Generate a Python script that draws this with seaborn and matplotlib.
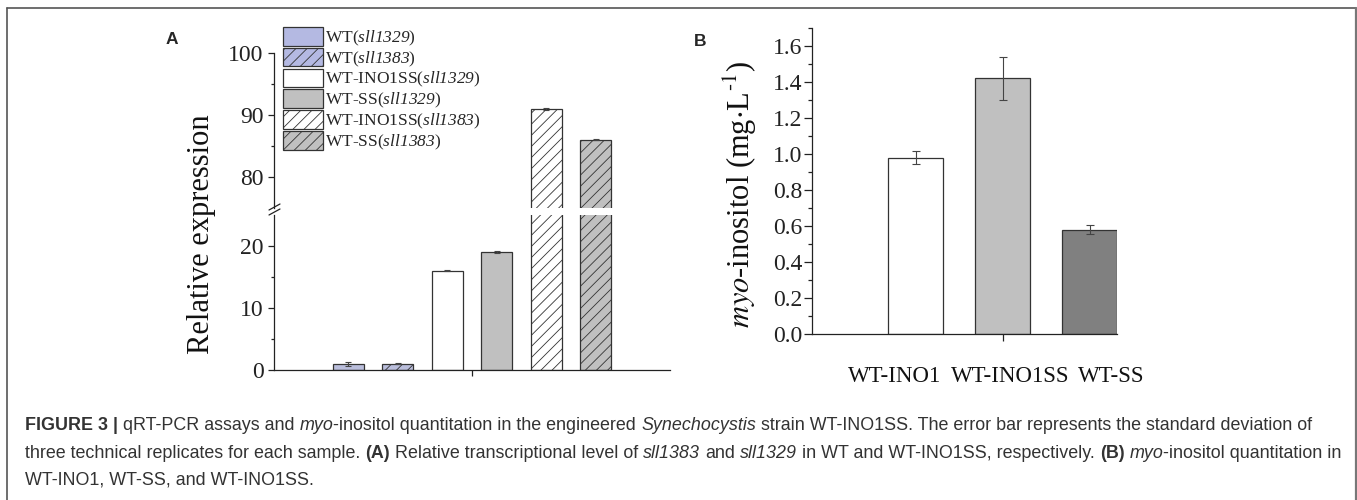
import numpy as np
import pandas as pd
import matplotlib
matplotlib.use("Agg")
import matplotlib.pyplot as plt
import seaborn as sns
from matplotlib.patches import Patch
from matplotlib.font_manager import FontProperties
from matplotlib.lines import Line2D

# ---------------- data ----------------
a_labels = ["WT(sll1329)", "WT(sll1383)", "WT-INO1SS(sll1329)", "WT-SS(sll1329)",
            "WT-INO1SS(sll1383)", "WT-SS(sll1383)"]
a_legend = [r"WT($\mathit{sll1329}$)", r"WT($\mathit{sll1383}$)",
            r"WT-INO1SS($\mathit{sll1329}$)", r"WT-SS($\mathit{sll1329}$)",
            r"WT-INO1SS($\mathit{sll1383}$)", r"WT-SS($\mathit{sll1383}$)"]
a_values = [1.0, 1.0, 16.0, 19.0, 91.0, 86.0]
a_errors = [0.3, 0.1, 0.1, 0.15, 0.15, 0.1]
a_colors = ["#b4b9e2", "#b4b9e2", "#ffffff", "#c0c0c0", "#ffffff", "#c0c0c0"]
a_hatches = ["", "///", "", "", "///", "///"]

b_labels = ["WT-INO1", "WT-INO1SS", "WT-SS"]
b_values = [0.98, 1.42, 0.58]
b_errors = [0.037, 0.12, 0.024]
b_colors = ["#ffffff", "#c0c0c0", "#808080"]

caption = [
    [("FIGURE 3 |", "b", True), ("qRT-PCR assays and", "n", True), ("myo", "i", False),
     ("-inositol quantitation in the engineered", "n", True), ("Synechocystis", "i", True),
     ("strain WT-INO1SS. The error bar represents the standard deviation of", "n", False)],
    [("three technical replicates for each sample.", "n", True), ("(A)", "b", True),
     ("Relative transcriptional level of", "n", True), ("sll1383", "i", True),
     ("and", "n", True), ("sll1329", "i", True),
     ("in WT and WT-INO1SS, respectively.", "n", True), ("(B)", "b", True),
     ("myo", "i", False), ("-inositol quantitation in", "n", False)],
    [("WT-INO1, WT-SS, and WT-INO1SS.", "n", False)],
]

W, H = 1357, 500

sns.set_theme(style="ticks")
plt.rcParams["font.family"] = ["Liberation Serif", "DejaVu Serif"]
plt.rcParams["mathtext.fontset"] = "custom"
plt.rcParams["mathtext.rm"] = "Liberation Serif:italic"
plt.rcParams["mathtext.it"] = "Liberation Serif:italic"
plt.rcParams["mathtext.bf"] = "Liberation Serif:bold"
plt.rcParams["hatch.linewidth"] = 0.6
plt.rcParams["hatch.color"] = "#333333"
plt.rcParams["axes.edgecolor"] = "#222222"
plt.rcParams["axes.linewidth"] = 0.9
plt.rcParams["xtick.color"] = "#222222"
plt.rcParams["ytick.color"] = "#222222"

fig = plt.figure(figsize=(W / 100, H / 100), dpi=100)
fig.patch.set_facecolor("white")


def px(l, t, r, b):
    return [l / W, 1 - b / H, (r - l) / W, (b - t) / H]


def fx(x):
    return x / W


def fy(y):
    return 1 - y / H


EDGE = "#333333"

# ---------------- panel A (broken axis) ----------------
dfa = pd.DataFrame({"pos": np.arange(1, len(a_values) + 1), "value": a_values,
                    "label": a_labels})
pal_a = dict(zip(a_labels, a_colors))

axA_low = fig.add_axes(px(274, 215, 670, 370))
axA_up = fig.add_axes(px(274, 53, 670, 208))

for ax in (axA_low, axA_up):
    sns.barplot(data=dfa, x="pos", y="value", hue="label", palette=pal_a,
                native_scale=True, dodge=False, width=0.63, errorbar=None,
                legend=False, edgecolor=EDGE, linewidth=0.9, ax=ax)
    bars = sorted(ax.patches, key=lambda p: p.get_x())
    for p, h in zip(bars, a_hatches):
        p.set_hatch(h)
    ax.errorbar(dfa["pos"], dfa["value"], yerr=a_errors, fmt="none",
                ecolor="#444444", elinewidth=0.8, capsize=2, capthick=0.8)
    ax.set_xlim(-0.5, 7.5)
    ax.set_xlabel("")
    ax.set_ylabel("")
    ax.set_facecolor("none")
    for s in ("top", "right"):
        ax.spines[s].set_visible(False)
    ax.tick_params(axis="y", which="major", direction="out", length=4.5,
                   width=0.9, labelsize=17, pad=3)
    ax.tick_params(axis="y", which="minor", direction="out", length=2.5,
                   width=0.9)

axA_low.set_ylim(0, 25)
axA_low.set_yticks([0, 10, 20])
axA_low.set_yticks([5, 15], minor=True)
axA_low.set_xticks([3.5])
axA_low.set_xticklabels([""])
axA_low.tick_params(axis="x", direction="out", length=4.5, width=0.9)

axA_up.set_ylim(75, 100)
axA_up.set_yticks([80, 90, 100])
axA_up.set_yticks([85, 95], minor=True)
axA_up.spines["bottom"].set_visible(False)
axA_up.set_xticks([])

# break marks on the y axis
for dy in (207, 212):
    fig.add_artist(Line2D([fx(269), fx(280)], [fy(dy + 3), fy(dy - 3)],
                          color="#222222", lw=0.9))

fig.text(fx(202), fy(234), "Relative expression", rotation=90,
         ha="center", va="center", fontsize=22, color="#111111")

# legend
leg_prop = FontProperties(family="Liberation Serif", size=12.5,
                          math_fontfamily="custom")
handles = [Patch(facecolor=c, edgecolor=EDGE, hatch=h, linewidth=0.9)
           for c, h in zip(a_colors, a_hatches)]
fig.legend(handles, a_legend, loc="upper left",
           bbox_to_anchor=(fx(283), fy(27)), bbox_transform=fig.transFigure,
           frameon=False, borderpad=0, borderaxespad=0,
           handlelength=40 / 17.36, handleheight=1.28, handletextpad=0.12,
           labelspacing=0.0, prop=leg_prop)

fig.text(fx(172), fy(40), "A", fontsize=12.5, fontweight="bold",
         family="Liberation Sans", ha="center", va="center")

# ---------------- panel B ----------------
dfb = pd.DataFrame({"pos": np.arange(1, len(b_values) + 1), "value": b_values,
                    "label": b_labels})
axB = fig.add_axes(px(812, 28, 1117, 334))
sns.barplot(data=dfb, x="pos", y="value", hue="label",
            palette=dict(zip(b_labels, b_colors)), native_scale=True,
            dodge=False, width=0.63, errorbar=None, legend=False,
            edgecolor=EDGE, linewidth=0.9, ax=axB)
axB.errorbar(dfb["pos"], dfb["value"], yerr=b_errors, fmt="none",
             ecolor="#444444", elinewidth=0.8, capsize=3, capthick=0.8)
axB.set_xlim(-0.19, 3.315)
axB.set_ylim(0, 1.7)
axB.set_yticks(np.arange(0, 1.61, 0.2))
axB.set_yticks(np.arange(0.1, 1.71, 0.2), minor=True)
axB.yaxis.set_major_formatter(matplotlib.ticker.FormatStrFormatter("%.1f"))
axB.set_xticks([2])
axB.set_xticklabels([""])
axB.set_xlabel("")
axB.set_ylabel("")
axB.set_facecolor("none")
for s in ("top", "right"):
    axB.spines[s].set_visible(False)
axB.tick_params(axis="y", which="major", direction="out", length=5.5,
                width=0.9, labelsize=17, pad=1.5)
axB.tick_params(axis="y", which="minor", direction="out", length=3,
                width=0.9)
axB.tick_params(axis="x", direction="out", length=5, width=0.9)

fig.text(fx(740), fy(194), r"$\mathit{myo}$-inositol (mg$\cdot$L$^{\text{-1}}$)",
         rotation=90, ha="center", va="center", fontsize=22,
         color="#111111", math_fontfamily="stix")

for lab, xc in zip(b_labels, [895, 1010, 1111]):
    fig.text(fx(xc), fy(376), lab, ha="center", va="center", fontsize=16.5,
             color="#111111")

fig.text(fx(700), fy(41), "B", fontsize=12.5, fontweight="bold",
         family="Liberation Sans", ha="center", va="center")

# ---------------- caption (runs of mixed style) ----------------
renderer = fig.canvas.get_renderer()
STYLE = {"n": dict(style="normal", weight="normal"),
         "i": dict(style="italic", weight="normal"),
         "b": dict(style="normal", weight="bold")}


def run_width(s, kind, size):
    prop = FontProperties(family="Liberation Sans", size=size, **STYLE[kind])
    w, _, _ = renderer.get_text_width_height_descent(s, prop, ismath=False)
    return w


def line_width(runs, size):
    sp = run_width("x x", "n", size) - run_width("xx", "n", size)
    tot = 0.0
    for s, kind, space in runs:
        tot += run_width(s, kind, size) + (sp if space else 0.0)
    return tot


base = 11.5
size = base * (1318 - 25) / line_width(caption[0], base)
sp = run_width("x x", "n", size) - run_width("xx", "n", size)
for runs, yc in zip(caption, [426, 453, 480]):
    x = 25.0
    for s, kind, space in runs:
        fig.text(fx(x), fy(yc), s, ha="left", va="center", fontsize=size,
                 family="Liberation Sans", color="#333333", **STYLE[kind])
        x += run_width(s, kind, size) + (sp if space else 0.0)

# frame around figure
fig.add_artist(Line2D([fx(7), fx(1356)], [fy(8), fy(8)], color="#555555", lw=1.2))
fig.add_artist(Line2D([fx(7), fx(7)], [fy(8), fy(500)], color="#555555", lw=1.2))
fig.add_artist(Line2D([fx(1355.5), fx(1355.5)], [fy(8), fy(500)], color="#777777", lw=1.6))

fig.savefig("out.png", dpi=100, facecolor="white")
